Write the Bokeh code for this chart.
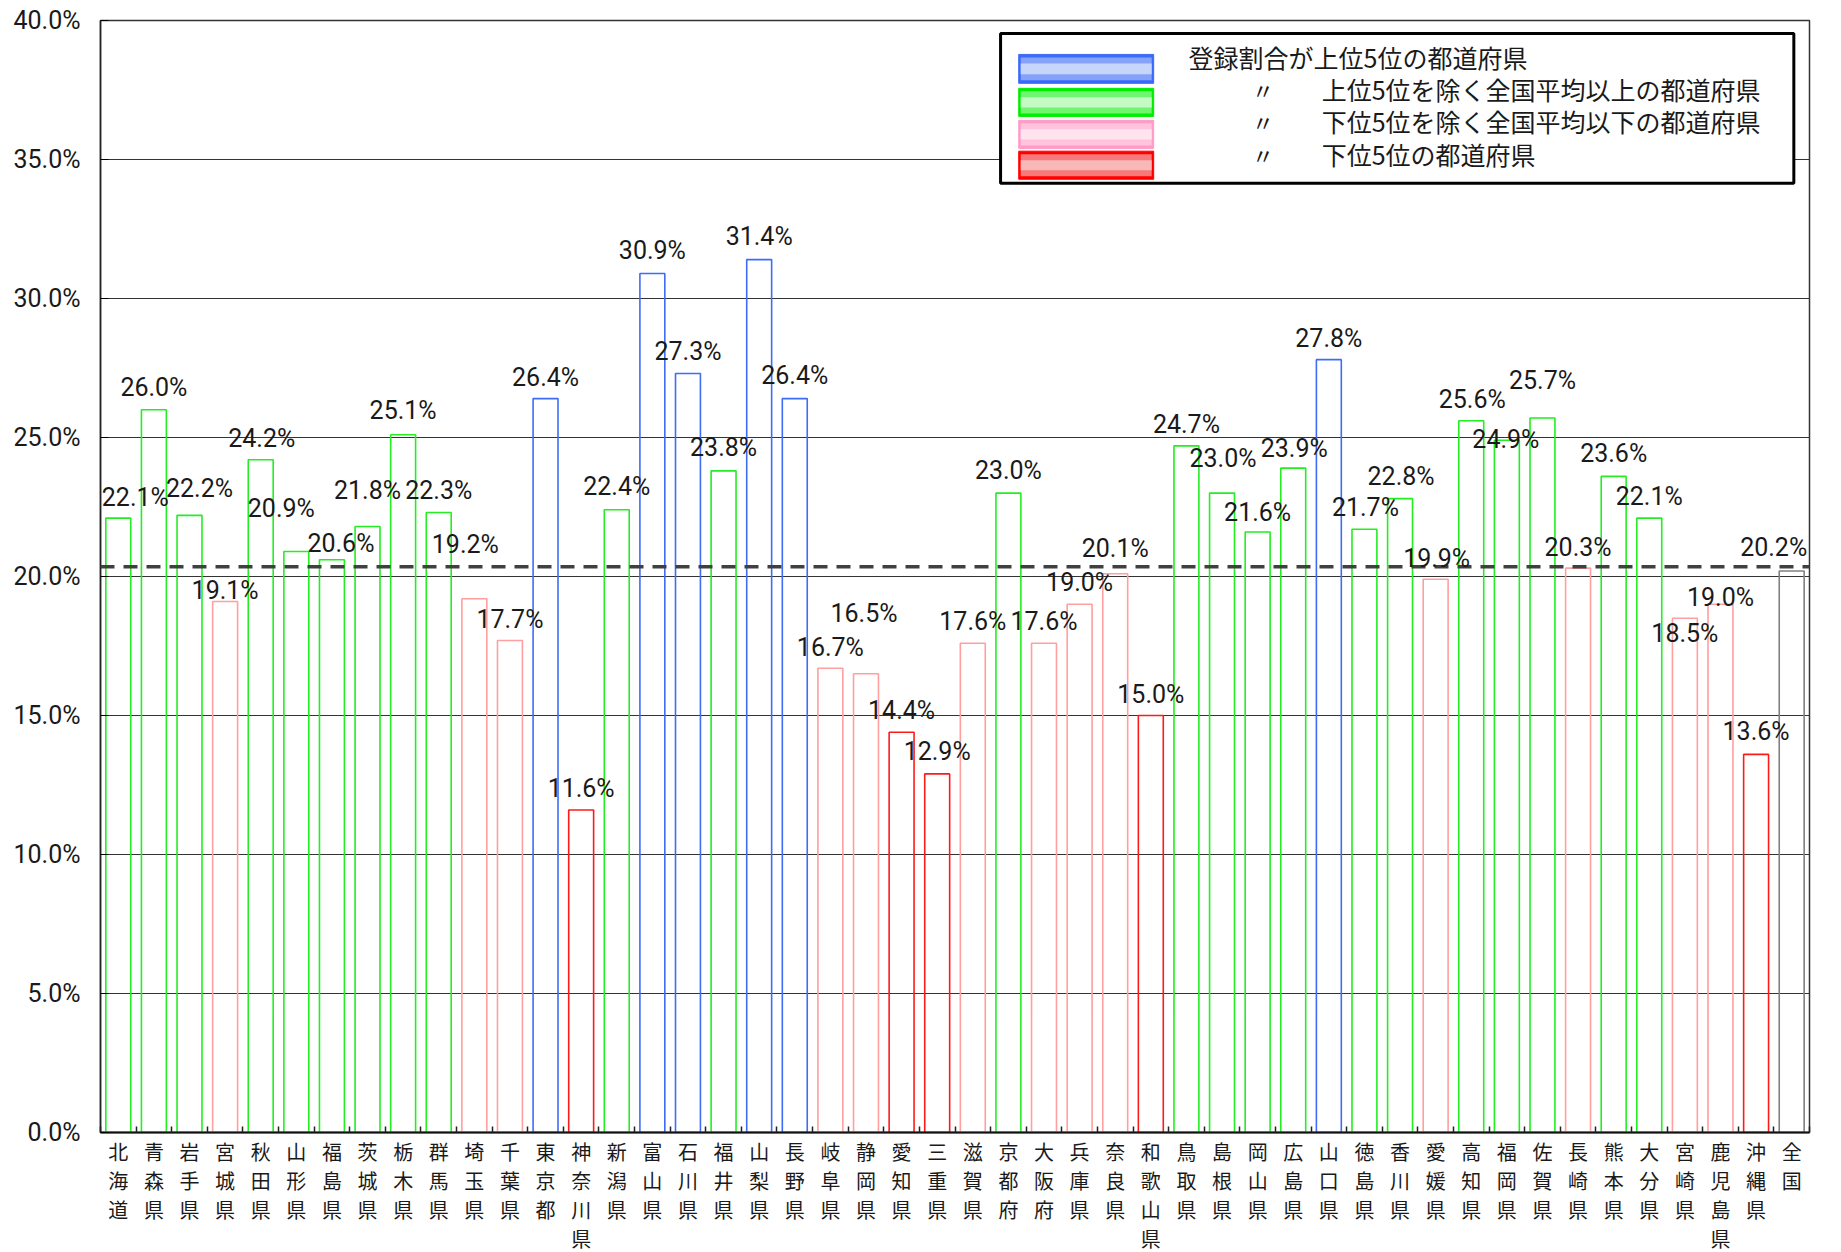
from bokeh.plotting import figure
from bokeh.models import (ColumnDataSource, FixedTicker, PrintfTickFormatter, Span,
                          BoxAnnotation, Label)
from bokeh.embed import file_html
from bokeh.resources import INLINE

# ---------------- data ----------------
prefectures = ["北海道", "青森県", "岩手県", "宮城県", "秋田県", "山形県", "福島県", "茨城県",
               "栃木県", "群馬県", "埼玉県", "千葉県", "東京都", "神奈川県", "新潟県", "富山県",
               "石川県", "福井県", "山梨県", "長野県", "岐阜県", "静岡県", "愛知県", "三重県",
               "滋賀県", "京都府", "大阪府", "兵庫県", "奈良県", "和歌山県", "鳥取県", "島根県",
               "岡山県", "広島県", "山口県", "徳島県", "香川県", "愛媛県", "高知県", "福岡県",
               "佐賀県", "長崎県", "熊本県", "大分県", "宮崎県", "鹿児島県", "沖縄県", "全国"]
ratios = [22.1, 26.0, 22.2, 19.1, 24.2, 20.9, 20.6, 21.8,
          25.1, 22.3, 19.2, 17.7, 26.4, 11.6, 22.4, 30.9,
          27.3, 23.8, 31.4, 26.4, 16.7, 16.5, 14.4, 12.9,
          17.6, 23.0, 17.6, 19.0, 20.1, 15.0, 24.7, 23.0,
          21.6, 23.9, 27.8, 21.7, 22.8, 19.9, 25.6, 24.9,
          25.7, 20.3, 23.6, 22.1, 18.5, 19.0, 13.6, 20.2]
# group: T = top 5, A = above average, B = below average, L = bottom 5, N = national
groups = ["A", "A", "A", "B", "A", "A", "A", "A",
          "A", "A", "B", "B", "T", "L", "A", "T",
          "T", "A", "T", "T", "B", "B", "L", "L",
          "B", "A", "B", "B", "B", "L", "A", "A",
          "A", "A", "T", "A", "A", "B", "A", "A",
          "A", "B", "A", "A", "B", "B", "L", "N"]
average_line = 20.35
y_ticks = [0, 5, 10, 15, 20, 25, 30, 35, 40]
legend_texts = ["登録割合が上位5位の都道府県",
                "上位5位を除く全国平均以上の都道府県",
                "下位5位を除く全国平均以下の都道府県",
                "下位5位の都道府県"]
ditto = "〃"

# ---------------- styles / layout ----------------
group_color = {"T": "#3f6cf5", "A": "#22ee22", "B": "#ff9f9f", "L": "#ff1a1a", "N": "#808080"}
# label nudges (screen px): height of label centre above bar top, horizontal shift
label_rise = [21, 22, 27, 11, 21, 43, 16, 36, 24, 22, 54, 21, 21, 22, 23, 23,
              22, 23, 23, 23, 21, 60, 22, 22, 22, 23, 22, 22, 25, 21, 21, 35,
              20, 20, 21, 22, 22, 21, 21, 1, 38, 21, 23, 22, -15, 7, 23, 23]
label_shift = [17, 0, 10, 0, 1, -15, 9, 0, 0, 0, -9, 0, 0, 0, 0, 0,
               0, 0, 0, 0, 0, -2, 0, 0, 0, 0, 0, 0, 0, 0, 0, 1,
               0, 1, 0, 1, 1, 1, 1, -1, 0, 0, 0, 0, 0, 0, 0, -18]

NUM_FONT = "Roboto"
JP_FONT = "Noto Sans CJK JP"

n = len(prefectures)
xs = list(range(n))
src = ColumnDataSource(dict(
    x=xs, top=ratios, color=[group_color[g] for g in groups],
))

p = figure(frame_width=1709, frame_height=1112, output_backend="svg", toolbar_location=None,
           x_range=(-0.5, n - 0.5), y_range=(0, 40),
           min_border_left=100, min_border_top=20, min_border_right=20, min_border_bottom=10)
p.background_fill_color = "white"
p.border_fill_color = "white"
p.outline_line_color = "#333333"
p.outline_line_width = 1.5

# grid
p.xgrid.visible = False
p.ygrid.grid_line_color = "#333333"
p.ygrid.grid_line_width = 1.2
p.ygrid.ticker = FixedTicker(ticks=y_ticks)

# bars (hollow)
p.vbar(x="x", top="top", bottom=0, width=0.7, source=src,
       fill_color=None, line_color="color", line_width=1.6)

# average dashed line
p.add_layout(Span(location=average_line, dimension="width", line_color="#404040",
                  line_width=3.5, line_dash="14 9"))

# data labels
for xi, v, dx, dy in zip(xs, ratios, label_shift, label_rise):
    p.add_layout(Label(x=xi, y=v, text=f"{v:.1f}%", x_offset=dx, y_offset=dy,
                       text_align="center", text_baseline="middle", text_font=NUM_FONT,
                       text_font_size="25px", text_color="#1a1a1a"))

# y axis
p.yaxis.ticker = FixedTicker(ticks=y_ticks)
p.yaxis.formatter = PrintfTickFormatter(format="%.1f%%")
p.yaxis.major_label_text_font = NUM_FONT
p.yaxis.major_label_text_font_size = "25px"
p.yaxis.major_label_text_color = "#1a1a1a"
p.yaxis.major_tick_in = 8
p.yaxis.major_tick_out = 0
p.yaxis.minor_tick_line_color = None
p.yaxis.major_label_standoff = 20
p.yaxis.axis_line_color = "#222222"
p.yaxis.axis_line_width = 1.5

# x axis
p.xaxis.ticker = FixedTicker(ticks=xs, minor_ticks=[i - 0.5 for i in range(n + 1)])
p.xaxis.major_label_overrides = {i: "\n".join(name) for i, name in enumerate(prefectures)}
p.xaxis.major_label_text_font = JP_FONT
p.xaxis.major_label_text_font_size = "20px"
p.xaxis.major_label_text_line_height = 1.0
p.xaxis.major_label_text_color = "#1a1a1a"
p.xaxis.major_label_standoff = 4
p.xaxis.major_tick_in = 0
p.xaxis.major_tick_out = 0
p.xaxis.minor_tick_in = 6
p.xaxis.minor_tick_out = 0
p.xaxis.minor_tick_line_color = "#222222"
p.xaxis.minor_tick_line_width = 1.5
p.xaxis.axis_line_color = "#111111"
p.xaxis.axis_line_width = 2

# ---------------- legend (manual) ----------------
px_x = 1.0 / 35.6   # data units per pixel (x)
px_y = 40.0 / 1112  # data units per pixel (y)
p.add_layout(BoxAnnotation(left=24.78, right=47.06, bottom=34.15, top=39.53,
                           fill_color="white", fill_alpha=1.0,
                           line_color="black", line_alpha=1.0, line_width=3,
                           level="annotation"))
sw_left, sw_right = 25.29, 29.08
swatch_rows = [(37.74, 38.78), (36.55, 37.56), (35.40, 36.41), (34.29, 35.30)]
swatch_cols = [("#3a6af8", "#86a2f8", "#c8d5fb"),
               ("#00ee00", "#6ff56f", "#c4fbc4"),
               ("#ff9cc6", "#ffc3dd", "#ffe4f0"),
               ("#ff0000", "#f67a7a", "#f8b8b8")]
for (b, t), (c1, c2, c3) in zip(swatch_rows, swatch_cols):
    p.add_layout(BoxAnnotation(left=sw_left, right=sw_right, bottom=b, top=t,
                               fill_color=c1, fill_alpha=1, line_color=c1, line_alpha=1,
                               line_width=1))
    p.add_layout(BoxAnnotation(left=sw_left + 2 * px_x, right=sw_right - 2 * px_x,
                               bottom=b + 3 * px_y, top=t - 3 * px_y,
                               fill_color=c2, fill_alpha=1, line_color=None))
    p.add_layout(BoxAnnotation(left=sw_left + 2 * px_x, right=sw_right - 2 * px_x,
                               bottom=b + 9 * px_y, top=t - 9 * px_y,
                               fill_color=c3, fill_alpha=1, line_color=None))

text_rows = [38.67, 37.52, 36.37, 35.19]
for k, (ty, txt) in enumerate(zip(text_rows, legend_texts)):
    tx = 30.06 if k == 0 else 33.80
    p.add_layout(Label(x=tx, y=ty, text=txt, text_font=JP_FONT, text_font_size="25px",
                       text_baseline="middle", text_align="left", text_color="#1a1a1a"))
    if k > 0:
        p.add_layout(Label(x=32.15, y=ty, text=ditto, text_font=JP_FONT, text_font_size="22px",
                           text_baseline="middle", text_align="center", text_color="#1a1a1a"))

open("out.html", "w").write(file_html(p, INLINE))
